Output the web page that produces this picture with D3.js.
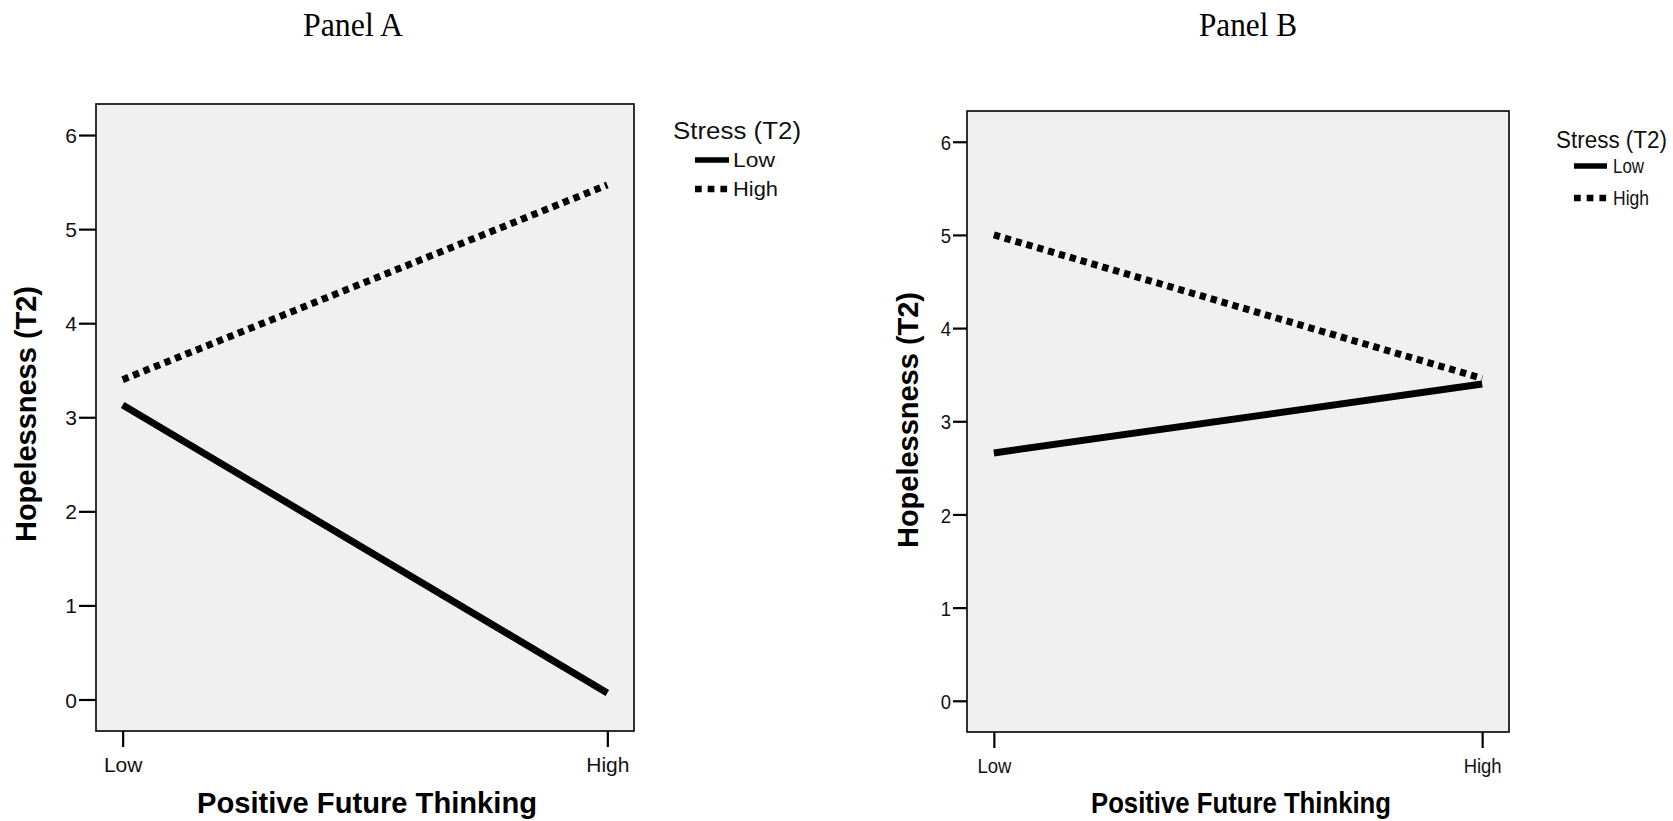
<!DOCTYPE html>
<html>
<head>
<meta charset="utf-8">
<script src="https://cdn.jsdelivr.net/npm/d3@7"></script>
<style>
  body { margin: 0; background: #fff; }
  svg { display: block; }
</style>
</head>
<body>
<script>
// data
const thinkingLevels = ["Low", "High"];
const stressLevels = ["Low", "High"];
const yTicks = [0, 1, 2, 3, 4, 5, 6];
const panelALow = [3.13, 0.07];
const panelAHigh = [3.40, 5.47];
const panelBLow = [2.66, 3.40];
const panelBHigh = [5.00, 3.46];

const W = 1673, H = 821;

const panels = [
  {title: "Panel A", series: [panelALow, panelAHigh],
   left: 96, right: 634, top: 104, bottom: 731, sx: 1,
   titleX: 353, titleLen: 100, yTitleX: 36, yTitleY: 414, xTitleX: 367, xTitleLen: 340,
   tickLen: 17, legX: 673, legY: 139, legTitleLen: 128,
   itemX1: 695, itemX2: 729, itemY: [160, 189], itemTextX: 733, itemLens: [42, 45]},
  {title: "Panel B", series: [panelBLow, panelBHigh],
   left: 967, right: 1509, top: 111, bottom: 732, sx: 0.88,
   titleX: 1248, titleLen: 98, yTitleX: 918, yTitleY: 420, xTitleX: 1241, xTitleLen: 300,
   tickLen: 14, legX: 1556, legY: 148, legTitleLen: 111,
   itemX1: 1574, itemX2: 1607, itemY: [166, 198], itemTextX: 1613, itemLens: [31, 36]}
];

const svg = d3.select("body").append("svg")
  .attr("width", W)
  .attr("height", H)
  .style("font-family", "'Liberation Sans', Arial, sans-serif");

panels.forEach(function(p){
  const g = svg.append("g");

  const x = d3.scalePoint()
    .domain(thinkingLevels)
    .range([p.left, p.right])
    .padding(0.055);

  const y = d3.scaleLinear()
    .domain([-0.335, 6.33])
    .range([p.bottom, p.top]);

  // frame
  g.append("rect")
    .attr("x", p.left)
    .attr("y", p.top)
    .attr("width", p.right - p.left)
    .attr("height", p.bottom - p.top)
    .attr("fill", "#f0f0f0")
    .attr("stroke", "#000")
    .attr("stroke-width", 1.6);

  // y axis
  const yAxis = g.append("g")
    .attr("transform", `translate(${p.left},0)`)
    .call(d3.axisLeft(y).tickValues(yTicks).tickSize(p.tickLen).tickFormat(d3.format("d")))
    .call(g => g.select(".domain").remove());
  yAxis.selectAll(".tick line").attr("stroke", "#000").attr("stroke-width", 2.2);
  yAxis.selectAll(".tick text")
    .attr("x", 0)
    .attr("dy", "0.36em")
    .attr("transform", `translate(${-p.tickLen - 2},0) scale(${p.sx},1)`)
    .attr("fill", "#111")
    .style("font-size", "21px")
    .style("font-family", "'Liberation Sans', Arial, sans-serif");

  // x axis
  const xAxis = g.append("g")
    .attr("transform", `translate(0,${p.bottom})`)
    .call(d3.axisBottom(x).tickSize(16))
    .call(g => g.select(".domain").remove());
  xAxis.selectAll(".tick line").attr("stroke", "#000").attr("stroke-width", 2.2);
  xAxis.selectAll(".tick text")
    .attr("y", 0)
    .attr("dy", null)
    .attr("transform", `translate(0,41) scale(${p.sx},1)`)
    .attr("fill", "#111")
    .style("font-size", "21px")
    .style("font-family", "'Liberation Sans', Arial, sans-serif");

  // lines
  const line = d3.line()
    .x((d, i) => x(thinkingLevels[i]))
    .y(d => y(d));

  g.selectAll(".series")
    .data(p.series)
    .join("path")
      .attr("class", "series")
      .attr("d", d => line(d))
      .attr("fill", "none")
      .attr("stroke", "#000")
      .attr("stroke-width", 7)
      .attr("stroke-linecap", "butt")
      .attr("stroke-dasharray", (d, i) => i == 1 ? "6.3,5" : null);

  // titles
  svg.append("text")
    .attr("x", p.titleX - p.titleLen / 2)
    .attr("y", 36)
    .attr("textLength", p.titleLen)
    .attr("lengthAdjust", "spacingAndGlyphs")
    .style("font-family", "'Liberation Serif', 'Times New Roman', serif")
    .style("font-size", "33px")
    .text(p.title);

  svg.append("text")
    .attr("x", p.xTitleX - p.xTitleLen / 2)
    .attr("y", 813)
    .attr("textLength", p.xTitleLen)
    .attr("lengthAdjust", "spacingAndGlyphs")
    .style("font-size", "29px")
    .style("font-weight", "bold")
    .text("Positive Future Thinking");

  svg.append("text")
    .attr("transform", `translate(${p.yTitleX},${p.yTitleY}) rotate(-90)`)
    .attr("x", -128)
    .attr("textLength", 256)
    .attr("lengthAdjust", "spacingAndGlyphs")
    .style("font-size", "29px")
    .style("font-weight", "bold")
    .text("Hopelessness (T2)");

  // legend
  const leg = svg.append("g");
  leg.append("text")
    .attr("x", p.legX)
    .attr("y", p.legY)
    .attr("textLength", p.legTitleLen)
    .attr("lengthAdjust", "spacingAndGlyphs")
    .style("font-size", "23px")
    .attr("fill", "#111")
    .text("Stress (T2)");

  stressLevels.forEach(function(s, i){
    leg.append("line")
      .attr("x1", p.itemX1)
      .attr("x2", p.itemX2)
      .attr("y1", p.itemY[i])
      .attr("y2", p.itemY[i])
      .attr("stroke", "#000")
      .attr("stroke-width", i == 0 ? 5.5 : 6.7)
      .attr("stroke-dasharray", i == 1 ? "6.7,6" : null);
    leg.append("text")
      .attr("x", p.itemTextX)
      .attr("y", p.itemY[i])
      .attr("dy", "0.36em")
      .attr("textLength", p.itemLens[i])
      .attr("lengthAdjust", "spacingAndGlyphs")
      .style("font-size", "20px")
      .attr("fill", "#111")
      .text(s);
  });
});
</script>
</body>
</html>
